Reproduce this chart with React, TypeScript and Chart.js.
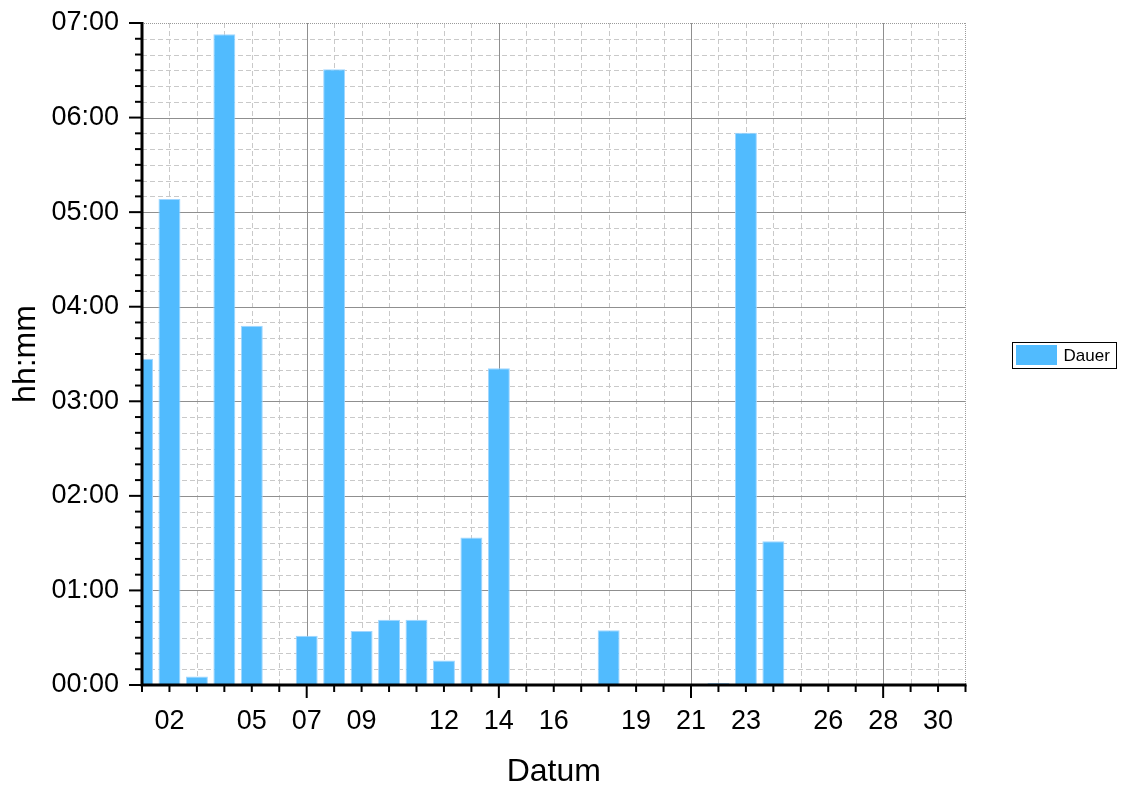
import React, { useEffect, useRef } from "react";
import { Chart, registerables } from "chart.js";

Chart.register(...registerables);

// ---- data ----
const days = [1, 2, 3, 4, 5, 7, 8, 9, 10, 11, 12, 13, 14, 18, 22, 23, 24];
const dauerHours = [3.45, 5.14, 0.09, 6.88, 3.8, 0.52, 6.51, 0.57, 0.69, 0.69, 0.26, 1.56, 3.35, 0.58, 0.02, 5.84, 1.52];
const xLabelDays = [2, 5, 7, 9, 12, 14, 16, 19, 21, 23, 26, 28, 30];
const xMajorDays = [7, 14, 21, 28];
const xMin = 1;
const xMax = 31;
const yMax = 7;
const yMinorPerHour = 6;
const seriesName = "Dauer";

const FONT = 'Arial, "Liberation Sans", sans-serif';
const BAR_COLOR = "rgb(81,187,254)";
const BAR_BORDER = "rgb(160,214,255)";

const pad2 = (n: number) => String(n).padStart(2, "0");

const gridPlugin = {
  id: "originGrid",
  beforeDatasetsDraw(chart: any) {
    const { ctx, chartArea: a, scales } = chart;
    const x = scales.x;
    const y = scales.y;
    ctx.save();
    // minor dashed grid
    ctx.setLineDash([5, 3]);
    ctx.strokeStyle = "#c9c9c9";
    ctx.lineWidth = 1;
    for (let d = xMin + 1; d < xMax; d++) {
      if (xMajorDays.includes(d)) continue;
      const px = Math.round(x.getPixelForValue(d)) + 0.5;
      ctx.beginPath();
      ctx.moveTo(px, a.top);
      ctx.lineTo(px, a.bottom);
      ctx.stroke();
    }
    for (let i = 1; i < yMax * yMinorPerHour; i++) {
      if (i % yMinorPerHour === 0) continue;
      const py = Math.round(y.getPixelForValue(i / yMinorPerHour)) + 0.5;
      ctx.beginPath();
      ctx.moveTo(a.left, py);
      ctx.lineTo(a.right, py);
      ctx.stroke();
    }
    // major solid grid
    ctx.setLineDash([]);
    ctx.strokeStyle = "#8f8f8f";
    ctx.lineWidth = 1;
    for (const d of xMajorDays) {
      const px = Math.round(x.getPixelForValue(d)) + 0.5;
      ctx.beginPath();
      ctx.moveTo(px, a.top);
      ctx.lineTo(px, a.bottom);
      ctx.stroke();
    }
    for (let h = 1; h < yMax; h++) {
      const py = Math.round(y.getPixelForValue(h)) + 0.5;
      ctx.beginPath();
      ctx.moveTo(a.left, py);
      ctx.lineTo(a.right, py);
      ctx.stroke();
    }
    // dotted top/right frame
    ctx.setLineDash([1, 1]);
    ctx.strokeStyle = "#9a9a9a";
    ctx.beginPath();
    ctx.moveTo(a.left, Math.round(a.top) + 0.5);
    ctx.lineTo(a.right, Math.round(a.top) + 0.5);
    ctx.moveTo(Math.round(a.right) - 0.5, a.top);
    ctx.lineTo(Math.round(a.right) - 0.5, a.bottom);
    ctx.stroke();
    ctx.restore();
  },
  afterDatasetsDraw(chart: any) {
    const { ctx, chartArea: a, scales } = chart;
    const x = scales.x;
    const y = scales.y;
    ctx.save();
    ctx.setLineDash([]);
    ctx.strokeStyle = "#000";
    // ticks
    ctx.lineWidth = 2;
    for (let d = xMin; d <= xMax; d++) {
      const px = x.getPixelForValue(d);
      const len = xMajorDays.includes(d) ? 13 : 7;
      ctx.beginPath();
      ctx.moveTo(px, a.bottom);
      ctx.lineTo(px, a.bottom + len);
      ctx.stroke();
    }
    for (let i = 0; i <= yMax * yMinorPerHour; i++) {
      const py = y.getPixelForValue(i / yMinorPerHour);
      const len = i % yMinorPerHour === 0 ? 13 : 7;
      ctx.beginPath();
      ctx.moveTo(a.left, py);
      ctx.lineTo(a.left - len, py);
      ctx.stroke();
    }
    // axis lines
    ctx.lineWidth = 3;
    ctx.beginPath();
    ctx.moveTo(a.left, a.top - 1);
    ctx.lineTo(a.left, a.bottom + 1.5);
    ctx.moveTo(a.left - 1.5, a.bottom);
    ctx.lineTo(a.right + 1, a.bottom);
    ctx.stroke();
    ctx.restore();
  },
  afterDraw(chart: any) {
    const { ctx, chartArea: a } = chart;
    ctx.save();
    const bx = Math.round(a.right + 46) + 0.5;
    const cy = (a.top + a.bottom) / 2 + 1;
    const by = Math.round(cy - 13) + 0.5;
    const bw = 104;
    const bh = 26;
    ctx.fillStyle = "#fff";
    ctx.fillRect(bx, by, bw, bh);
    ctx.strokeStyle = "#000";
    ctx.lineWidth = 1;
    ctx.strokeRect(bx, by, bw, bh);
    ctx.fillStyle = BAR_COLOR;
    ctx.fillRect(bx + 3.5, by + 2.5, 41, 20);
    ctx.fillStyle = "#000";
    ctx.font = `17px ${FONT}`;
    ctx.textBaseline = "middle";
    ctx.textAlign = "left";
    ctx.fillText(seriesName, bx + 51, by + bh / 2 + 1);
    ctx.restore();
  },
};

export default function App() {
  const ref = useRef<HTMLCanvasElement | null>(null);
  useEffect(() => {
    if (!ref.current) return;
    const chart = new Chart(ref.current, {
      type: "bar",
      data: {
        datasets: [
          {
            label: seriesName,
            data: days.map((d, i) => ({ x: d, y: dauerHours[i] })),
            backgroundColor: BAR_COLOR,
            borderColor: BAR_BORDER,
            borderWidth: 1,
            barPercentage: 0.8,
            categoryPercentage: 1,
            clip: 0,
          } as any,
        ],
      },
      options: {
        animation: false,
        responsive: false,
        maintainAspectRatio: false,
        layout: { padding: { left: 0, right: 158.5, top: 23, bottom: 0 } },
        plugins: { legend: { display: false }, tooltip: { enabled: false } },
        scales: {
          x: {
            type: "linear",
            min: xMin,
            max: xMax,
            offset: false,
            ticks: {
              stepSize: 1,
              autoSkip: false,
              maxRotation: 0,
              minRotation: 0,
              padding: 7,
              color: "#000",
              font: { family: FONT, size: 27 },
              callback: (v: any) => (xLabelDays.includes(Number(v)) ? pad2(Number(v)) : ""),
            },
            grid: { display: true, offset: false, drawOnChartArea: false, drawTicks: true, tickLength: 13, color: "rgba(0,0,0,0)" },
            border: { display: false },
            title: { display: true, text: "Datum", color: "#000", font: { family: FONT, size: 32, lineHeight: 1.1 }, padding: { top: 0, bottom: 0 } },
            afterFit: (s: any) => {
              s.height = 105;
              s.paddingLeft = 0;
              s.paddingRight = 0;
            },
          },
          y: {
            type: "linear",
            min: 0,
            max: yMax,
            ticks: {
              stepSize: 1,
              padding: 10,
              color: "#000",
              font: { family: FONT, size: 27 },
              callback: (v: any) => `${pad2(Number(v))}:00`,
            },
            grid: { display: true, drawOnChartArea: false, drawTicks: true, tickLength: 13, color: "rgba(0,0,0,0)" },
            border: { display: false },
            title: { display: true, text: "hh:mm", color: "#000", font: { family: FONT, size: 32 }, padding: { top: 7, bottom: 0 } },
            afterFit: (s: any) => {
              s.width = 142;
              s.paddingTop = 0;
              s.paddingBottom = 0;
            },
          },
        },
      } as any,
      plugins: [gridPlugin],
    });
    return () => chart.destroy();
  }, []);
  return (
    <div style={{ position: "absolute", left: 0, top: 0, width: 1124, height: 790, background: "#fff" }}>
      <canvas ref={ref} width={1124} height={790} style={{ width: 1124, height: 790, display: "block" }} />
    </div>
  );
}
